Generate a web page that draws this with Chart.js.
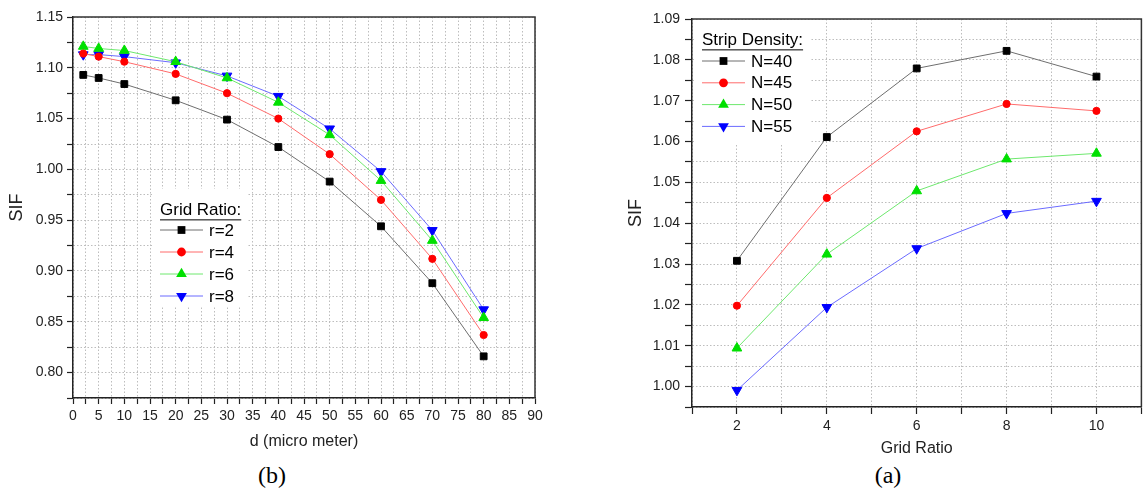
<!DOCTYPE html>
<html>
<head>
<meta charset="utf-8">
<script src="https://cdn.jsdelivr.net/npm/chart.js@4/dist/chart.umd.min.js"></script>
<style>
  html, body { margin: 0; padding: 0; background: #fff; }
  body { width: 1148px; height: 491px; position: relative; overflow: hidden; }
  canvas { position: absolute; top: 0; }
  #chartB { left: 0; }
  #chartA { left: 580px; }
  .caption {
    position: absolute; top: 462px; width: 60px; margin-left: -30px;
    text-align: center; font: 24px "Liberation Serif", "Times New Roman", serif; color: #000;
  }
</style>
</head>
<body>
<canvas id="chartB" width="560" height="460"></canvas>
<canvas id="chartA" width="568" height="460"></canvas>
<div class="caption" style="left:272px">(b)</div>
<div class="caption" style="left:888px">(a)</div>

<script>
// (b) SIF against d, one series per grid ratio
const dValues = [2, 5, 10, 20, 30, 40, 50, 60, 70, 80];
const sifR2 = [1.093, 1.090, 1.084, 1.068, 1.049, 1.022, 0.988, 0.944, 0.888, 0.816];
const sifR4 = [1.114, 1.111, 1.106, 1.094, 1.075, 1.050, 1.015, 0.970, 0.912, 0.837];
const sifR6 = [1.121, 1.119, 1.117, 1.106, 1.090, 1.066, 1.034, 0.989, 0.930, 0.854];
const sifR8 = [1.113, 1.113, 1.111, 1.105, 1.092, 1.072, 1.040, 0.998, 0.940, 0.862];
const ratioLabels = ['r=2', 'r=4', 'r=6', 'r=8'];

// (a) SIF against grid ratio, one series per strip density
const gridRatios = [2, 4, 6, 8, 10];
const sifN40 = [1.0308, 1.0611, 1.0779, 1.0822, 1.0759];
const sifN45 = [1.0198, 1.0462, 1.0625, 1.0692, 1.0675];
const sifN50 = [1.0094, 1.0324, 1.0479, 1.0557, 1.0571];
const sifN55 = [0.9991, 1.0194, 1.0338, 1.0424, 1.0454];
const densityLabels = ['N=40', 'N=45', 'N=50', 'N=55'];

const FONT = '"Liberation Sans", Arial, sans-serif';

const seriesStyles = [
    { line: '#6e6e6e', fill: '#000000', pointStyle: 'rect', radius: 4.8, rotation: 0 },
    { line: '#ff6b6b', fill: '#ff0000', pointStyle: 'circle', radius: 3.6, rotation: 0 },
    { line: '#6ee86e', fill: '#00e000', pointStyle: 'triangle', radius: 5.6, rotation: 0 },
    { line: '#6b6bff', fill: '#0000ff', pointStyle: 'triangle', radius: 5.6, rotation: 180 }
];

function isMultiple(v, step) {
    const q = v / step;
    return Math.abs(q - Math.round(q)) < 1e-6;
}

function makeDatasets(xs, seriesList, labels) {
    return seriesList.map(function (ys, i) {
        const s = seriesStyles[i];
        return {
            label: labels[i],
            data: xs.map((x, j) => ({ x: x, y: ys[j] })),
            borderColor: s.line,
            borderWidth: 1,
            backgroundColor: s.fill,
            pointBackgroundColor: s.fill,
            pointBorderColor: s.fill,
            pointBorderWidth: 1,
            pointStyle: s.pointStyle,
            pointRadius: s.radius,
            pointRotation: s.rotation,
            tension: 0
        };
    });
}

function drawMarker(ctx, s, x, y) {
    ctx.save();
    ctx.fillStyle = s.fill;
    ctx.beginPath();
    if (s.pointStyle === 'rect') {
        const h = s.radius * Math.SQRT1_2 + 0.5;
        ctx.rect(x - h, y - h, 2 * h, 2 * h);
    } else if (s.pointStyle === 'circle') {
        ctx.arc(x, y, s.radius + 0.8, 0, Math.PI * 2);
    } else {
        const r = s.radius + 0.6;
        const dir = s.rotation === 180 ? -1 : 1;
        ctx.moveTo(x, y - dir * r);
        ctx.lineTo(x + r * 0.866, y + dir * r * 0.5);
        ctx.lineTo(x - r * 0.866, y + dir * r * 0.5);
        ctx.closePath();
    }
    ctx.fill();
    ctx.restore();
}

// draws the boxed legend inside the plot and the frame around the plot
function framePlugin(legend) {
    return {
        id: 'frameAndLegend',
        afterDatasetsDraw(chart) {
            const ctx = chart.ctx;
            const area = chart.chartArea;
            const L = legend;
            ctx.save();
            ctx.fillStyle = '#ffffff';
            ctx.fillRect(L.box[0], L.box[1], L.box[2], L.box[3]);

            ctx.fillStyle = '#000';
            ctx.font = L.fontSize + 'px ' + FONT;
            ctx.textBaseline = 'middle';
            ctx.textAlign = 'left';
            ctx.fillText(L.title, L.x, L.titleY);
            const tw = ctx.measureText(L.title).width;
            ctx.strokeStyle = '#000';
            ctx.lineWidth = 1;
            ctx.beginPath();
            ctx.moveTo(L.x, L.titleY + L.fontSize * 0.58);
            ctx.lineTo(L.x + tw, L.titleY + L.fontSize * 0.58);
            ctx.stroke();

            L.labels.forEach(function (text, i) {
                const y = L.firstY + i * L.rowGap;
                const s = seriesStyles[i];
                ctx.strokeStyle = s.line;
                ctx.beginPath();
                ctx.moveTo(L.x, y);
                ctx.lineTo(L.x + L.lineLen, y);
                ctx.stroke();
                drawMarker(ctx, s, L.x + L.lineLen / 2, y);
                ctx.fillStyle = '#000';
                ctx.fillText(text, L.x + L.lineLen + 6, y + 1);
            });

            ctx.strokeStyle = '#333';
            ctx.lineWidth = 1.5;
            ctx.beginPath();
            ctx.moveTo(area.left, area.top);
            ctx.lineTo(area.right, area.top);
            ctx.lineTo(area.right, area.bottom);
            ctx.stroke();
            ctx.restore();
        }
    };
}

function makeChart(id, cfg) {
    const gridCommon = {
        color: '#bdbdbd',
        lineWidth: 1,
        tickColor: '#222',
        tickLength: cfg.tickLength,
        tickWidth: 1.2
    };
    const borderCommon = { display: true, color: '#222', width: 1.5, dash: [1.5, 2] };
    return new Chart(document.getElementById(id), {
        type: 'line',
        data: { datasets: cfg.datasets },
        options: {
            responsive: false,
            animation: false,
            layout: { padding: cfg.padding },
            plugins: { legend: { display: false }, tooltip: { enabled: false } },
            scales: {
                x: {
                    type: 'linear',
                    min: cfg.xMin, max: cfg.xMax,
                    grid: gridCommon,
                    border: borderCommon,
                    ticks: {
                        stepSize: cfg.xStep,
                        autoSkip: false,
                        maxRotation: 0,
                        padding: cfg.xPad,
                        color: '#222',
                        font: { family: FONT, size: 14 },
                        callback: v => isMultiple(v, cfg.xMajor) ? String(Math.round(v)) : ''
                    },
                    title: {
                        display: true, text: cfg.xTitle, color: '#222',
                        font: { family: FONT, size: 16 },
                        padding: { top: 0, bottom: cfg.xTitlePad }
                    },
                    afterFit: function (scale) { scale.height = cfg.xAxisHeight; }
                },
                y: {
                    min: cfg.yMin, max: cfg.yMax,
                    grid: gridCommon,
                    border: borderCommon,
                    ticks: {
                        stepSize: cfg.yStep,
                        autoSkip: false,
                        padding: cfg.yPad,
                        color: '#222',
                        font: { family: FONT, size: 14 },
                        callback: v => isMultiple(v, cfg.yMajor) ? v.toFixed(2) : ''
                    },
                    title: {
                        display: true, text: 'SIF', color: '#222',
                        font: { family: FONT, size: 18 },
                        padding: { top: cfg.yTitlePad, bottom: 0 }
                    },
                    afterFit: function (scale) { scale.width = cfg.yAxisWidth; }
                }
            }
        },
        plugins: [framePlugin(cfg.legend)]
    });
}

makeChart('chartB', {
    datasets: makeDatasets(dValues, [sifR2, sifR4, sifR6, sifR8], ratioLabels),
    padding: { top: 17, right: 25, left: 0, bottom: 0 },
    xMin: 0, xMax: 90, xStep: 2.5, xMajor: 5,
    yMin: 0.775, yMax: 1.15, yStep: 0.025, yMajor: 0.05,
    tickLength: 6, xPad: 4, yPad: 4,
    xTitle: 'd (micro meter)', xTitlePad: 9,
    yTitlePad: 6,
    xAxisHeight: 62, yAxisWidth: 73,
    legend: {
        title: 'Grid Ratio:', labels: ratioLabels, fontSize: 17,
        box: [153, 189, 94, 118],
        x: 160, titleY: 210, firstY: 230, rowGap: 22, lineLen: 43
    }
});

makeChart('chartA', {
    datasets: makeDatasets(gridRatios, [sifN40, sifN45, sifN50, sifN55], densityLabels),
    padding: { top: 19, right: 1, left: 0, bottom: 0 },
    xMin: 1, xMax: 11, xStep: 1, xMajor: 2,
    yMin: 0.995, yMax: 1.09, yStep: 0.005, yMajor: 0.01,
    tickLength: 7, xPad: 4, yPad: 5,
    xTitle: 'Grid Ratio', xTitlePad: 2,
    yTitlePad: 45,
    xAxisHeight: 53, yAxisWidth: 112,
    legend: {
        title: 'Strip Density:', labels: densityLabels, fontSize: 17,
        box: [114, 20, 117, 123],
        x: 122, titleY: 40, firstY: 61, rowGap: 21.8, lineLen: 43
    }
});
</script>
</body>
</html>
